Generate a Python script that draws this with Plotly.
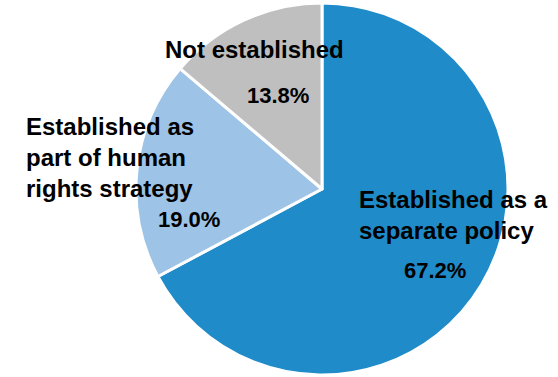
import plotly.graph_objects as go

# Share of respondents by status of the policy
categories = ["Established as a<br>separate policy",
              "Established as<br>part of human<br>rights strategy",
              "Not established"]
shares = [67.2, 19.0, 13.8]
colors = ["#1F8BC9", "#9DC3E6", "#BFBFBF"]

W, H = 558, 377
cx, cy, r = 322, 189, 186  # pie centre and radius in pixels

fig = go.Figure(go.Pie(
    labels=categories,
    values=shares,
    sort=False,
    direction="clockwise",
    rotation=0,
    textinfo="none",
    hoverinfo="label+percent",
    marker=dict(colors=colors, line=dict(color="white", width=3)),
    domain=dict(x=[(cx - r) / W, (cx + r) / W], y=[(H - cy - r) / H, (H - cy + r) / H]),
    showlegend=False,
))

font = dict(family="Liberation Sans, Arial, sans-serif", size=24, color="black")

# (name x, name y, anchor, pct x, pct y) in pixels
label_pos = [
    (357, 215, "left", 435, 270),
    (24, 157, "left", 189, 219),
    (254, 50, "center", 278, 95),
]

annotations = []
for name, val, (lx, ly, anc, px, py) in zip(categories, shares, label_pos):
    annotations.append(dict(
        x=lx / W, y=1 - ly / H, xref="paper", yref="paper",
        text=f"<b>{name}</b>", showarrow=False, xanchor=anc, yanchor="middle",
        align=anc, font=font,
    ))
    annotations.append(dict(
        x=px / W, y=1 - py / H, xref="paper", yref="paper",
        text=f"<b>{val:.1f}%</b>", showarrow=False, xanchor="center", yanchor="middle",
        font=dict(font, size=22),
    ))

fig.update_layout(
    width=W, height=H,
    margin=dict(l=0, r=0, t=0, b=0),
    paper_bgcolor="white",
    plot_bgcolor="white",
    annotations=annotations,
)

fig.write_html("out.html")
